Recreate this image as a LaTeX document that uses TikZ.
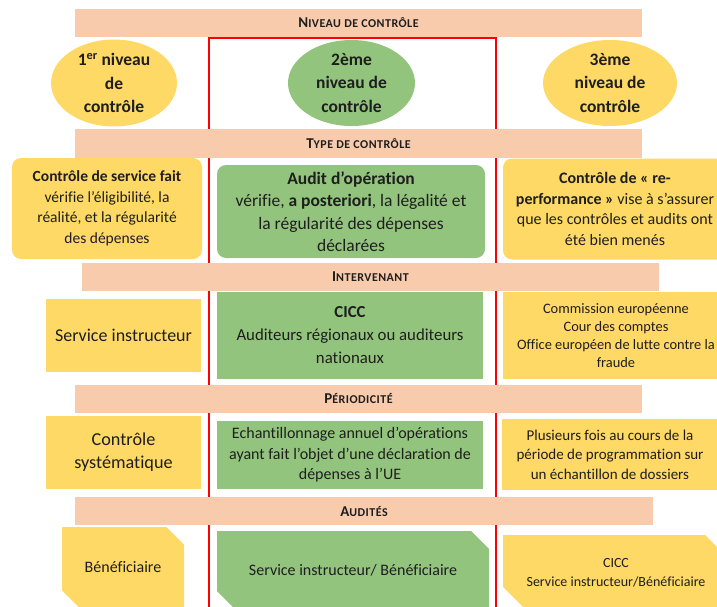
\documentclass[tikz,border=0pt]{standalone}
\usepackage{fontspec}
\setmainfont{Carlito}[Ligatures=CommonOff]
\usetikzlibrary{shapes.geometric,shapes.misc}

\definecolor{bandcol}{HTML}{F8CBAD}
\definecolor{ylw}{HTML}{FFD966}
\definecolor{grn}{HTML}{93C47D}
\definecolor{ink}{HTML}{1E1E1E}
\newcommand{\fakesc}[2]{\addfontfeature{LetterSpace=4}{\fontsize{15}{16}\selectfont #1}{\fontsize{12}{16}\selectfont #2}}

\begin{document}
\begin{tikzpicture}[x=1pt, y=-1pt,
    band/.style={fill=bandcol, minimum width=#1, minimum height=28pt, inner sep=0pt, text=ink, font=\bfseries},
    lvl/.style={ellipse, fill=#1, inner sep=0pt, align=center, text=ink, font=\fontsize{17.5}{23.5}\selectfont\bfseries},
    cell/.style={fill=#1, inner sep=0pt, align=center, text=ink, font=\fontsize{16}{20.5}\selectfont},
    rcell/.style={cell=#1, rounded corners=9pt},
    scell/.style={cell=#1, chamfered rectangle, chamfered rectangle corners={north east,south west},
                  chamfered rectangle xsep=12pt, chamfered rectangle ysep=12pt}]

    \useasboundingbox (0,0) rectangle (717,607);

    % Red frame round the second level
    \draw[red, line width=1.2pt] (209,612) -- (209,38) -- (496,38) -- (496,612);

    % Header bands
    \foreach \i/\x/\y/\w/\t in {1/358.5/23/567pt/{\fakesc{N}{IVEAU DE CONTRÔLE}},
                                 2/358.5/143.5/567pt/{\fakesc{T}{YPE DE CONTRÔLE}},
                                 3/370.5/276.5/577pt/{\fakesc{I}{NTERVENANT}},
                                 4/358.5/398.5/567pt/{\fakesc{P}{ÉRIODICITÉ}},
                                 5/364/511/578pt/{\fakesc{A}{UDITÉS}}}
    \node[band=\w] (B\i) at (\x,\y) {\t};

    % Levels
    \node[lvl=ylw, minimum width=126pt, minimum height=87pt] (N1) at (114,83) {1\textsuperscript{er} niveau\\de\\contrôle};
    \node[lvl=grn, minimum width=127pt, minimum height=86pt] (N2) at (351.5,83) {2ème\\niveau de\\contrôle};
    \node[lvl=ylw, minimum width=134pt, minimum height=86pt] (N3) at (610,83) {3ème\\niveau de\\contrôle};

    % Type of control
    \node[rcell=ylw, minimum width=190pt, minimum height=101pt, font=\fontsize{15.5}{20.5}\selectfont] (T1) at (107,208.5)
        {\textbf{Contrôle de service fait}\\vérifie l’éligibilité, la\\réalité, et la régularité\\des dépenses};
    \node[rcell=grn, minimum width=268pt, minimum height=93pt, font=\fontsize{17.5}{22.5}\selectfont] (T2) at (351,211.5)
        {\textbf{Audit d’opération}\\vérifie, \textbf{a posteriori}, la légalité et\\la régularité des dépenses\\déclarées};
    \node[rcell=ylw, minimum width=224pt, minimum height=101pt] (T3) at (615,209)
        {\textbf{Contrôle de « re-}\\\textbf{performance »} vise à s’assurer\\que les contrôles et audits ont\\été bien menés};

    % Actors
    \node[cell=ylw, minimum width=155pt, minimum height=73pt, font=\fontsize{18}{23}\selectfont] (R1) at (123.5,335.5) {Service instructeur};
    \node[cell=grn, minimum width=266pt, minimum height=87pt, font=\fontsize{16.8}{23}\selectfont] (R2) at (350,335.5)
        {\textbf{CICC}\\Auditeurs régionaux ou auditeurs\\nationaux};
    \node[cell=ylw, minimum width=226pt, minimum height=87pt, font=\fontsize{14.4}{18}\selectfont] (R3) at (616,335.5)
        {Commission européenne\\Cour des comptes\\Office européen de lutte contre la\\fraude};

    % Frequency
    \node[cell=ylw, minimum width=155pt, minimum height=73pt, font=\fontsize{18.2}{23}\selectfont] (P1) at (123.5,452.5) {Contrôle\\systématique};
    \node[cell=grn, minimum width=266pt, minimum height=68pt, font=\fontsize{16}{20.5}\selectfont] (P2) at (350,455)
        {Echantillonnage annuel d’opérations\\ayant fait l’objet d’une déclaration de\\dépenses à l’UE};
    \node[cell=ylw, minimum width=216pt, minimum height=71pt, font=\fontsize{15}{19.5}\selectfont] (P3) at (610,454.5)
        {Plusieurs fois au cours de la\\période de programmation sur\\un échantillon de dossiers};

    % Audited
    \node[scell=ylw, minimum width=122pt, minimum height=81pt] (A1) at (123,567.5) {Bénéficiaire};
    \node[scell=grn, minimum width=272pt, minimum height=78pt] (A2) at (353,570) {Service instructeur/ Bénéficiaire};
    \node[scell=ylw, minimum width=226pt, minimum height=76pt, font=\fontsize{14}{19}\selectfont] (A3) at (616,573)
        {CICC\\Service instructeur/Bénéficiaire};

\end{tikzpicture}
\end{document}
